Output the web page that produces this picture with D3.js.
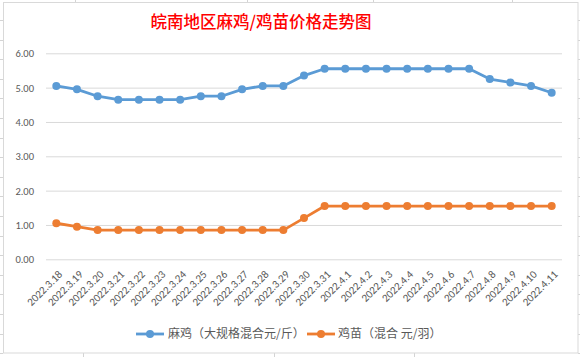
<!DOCTYPE html>
<html><head><meta charset="utf-8">
<script src="https://cdn.jsdelivr.net/npm/d3@7"></script>
<style>
html,body{margin:0;padding:0;background:#fff;}
svg{display:block;}
</style></head>
<body><svg id="c" width="580" height="357"></svg>
<script>
const categories = ["2022.3.18","2022.3.19","2022.3.20","2022.3.21","2022.3.22","2022.3.23","2022.3.24","2022.3.25","2022.3.26","2022.3.27","2022.3.28","2022.3.29","2022.3.30","2022.3.31","2022.4.1","2022.4.2","2022.4.3","2022.4.4","2022.4.5","2022.4.6","2022.4.7","2022.4.8","2022.4.9","2022.4.10","2022.4.11"];
const maji = [5.05,4.95,4.75,4.65,4.65,4.65,4.65,4.75,4.75,4.95,5.05,5.05,5.35,5.55,5.55,5.55,5.55,5.55,5.55,5.55,5.55,5.25,5.15,5.05,4.85];
const jimiao = [1.05,0.95,0.85,0.85,0.85,0.85,0.85,0.85,0.85,0.85,0.85,0.85,1.2,1.55,1.55,1.55,1.55,1.55,1.55,1.55,1.55,1.55,1.55,1.55,1.55];
const yTicks = [0,1,2,3,4,5,6];
const seriesNames = ["麻鸡（大规格混合元/斤）","鸡苗（混合 元/羽）"];
const title = "皖南地区麻鸡/鸡苗价格走势图";

const colors = ["#5B9BD5","#ED7D31"];
const svg = d3.select("#c");
const latin = "Calibri, Carlito, 'Liberation Sans', Arial, sans-serif";
const cjk = "'Noto Sans CJK SC', 'Microsoft YaHei', sans-serif";

// spreadsheet background grid outside chart
const bg = svg.append("g").attr("stroke","#D4D4D4").attr("stroke-width",1);
for (let y = 20; y < 357; y += 19.6) {
  bg.append("line").attr("x1",0).attr("x2",3).attr("y1",Math.round(y)+0.5).attr("y2",Math.round(y)+0.5);
  bg.append("line").attr("x1",578).attr("x2",580).attr("y1",Math.round(y)+0.5).attr("y2",Math.round(y)+0.5);
}
[75,247,373,512].forEach(x=>bg.append("line").attr("x1",x+0.5).attr("x2",x+0.5).attr("y1",0).attr("y2",2));
[83,274,414].forEach(x=>bg.append("line").attr("x1",x+0.5).attr("x2",x+0.5).attr("y1",353).attr("y2",357));

// chart border
svg.append("rect").attr("x",3.5).attr("y",2.5).attr("width",574.5).attr("height",350.5)
  .attr("fill","#fff").attr("stroke","#D9D9D9").attr("stroke-width",1);

// title
svg.append("text").attr("x",261).attr("y",22).attr("dy","0.35em")
  .attr("text-anchor","middle").attr("fill","#FF0000")
  .attr("font-family",cjk).attr("font-size",16.5).attr("font-weight",500)
  .text(title);

const x = d3.scaleBand().domain(categories).range([46,562]).padding(0);
const y = d3.scaleLinear().domain([0,6]).range([259.3,53.3]);

// y grid + labels
const yAxis = svg.append("g").attr("transform","translate(46,0)")
  .call(d3.axisLeft(y).tickValues(yTicks).tickFormat(d3.format(".2f")).tickSize(-516).tickPadding(12));
yAxis.select(".domain").remove();
yAxis.selectAll(".tick line").attr("stroke","#D9D9D9").attr("stroke-width",1);
yAxis.selectAll(".tick text").attr("fill","#595959").attr("font-family",latin).attr("font-size",10.5);

// x axis labels
const xAxis = svg.append("g").attr("transform","translate(0,259.3)")
  .call(d3.axisBottom(x).tickSize(0));
xAxis.select(".domain").remove();
xAxis.selectAll(".tick text")
  .attr("fill","#595959").attr("font-family",latin).attr("font-size",11)
  .attr("text-anchor","end")
  .attr("x",0).attr("y",0).attr("dy","0.35em")
  .attr("transform","translate(4,13) rotate(-45)");

// lines
const cx = d => x(d) + x.bandwidth()/2;
[maji, jimiao].forEach((vals,i)=>{
  const line = d3.line().x((d,j)=>cx(categories[j])).y(d=>y(d));
  svg.append("path").datum(vals).attr("d",line).attr("fill","none")
    .attr("stroke",colors[i]).attr("stroke-width",2.8).attr("stroke-linejoin","round");
  svg.append("g").selectAll("circle").data(vals).join("circle")
    .attr("cx",(d,j)=>cx(categories[j])).attr("cy",d=>y(d)).attr("r",4)
    .attr("fill",colors[i]);
});

// legend
const leg = [{lx:136, tx:168},{lx:307, tx:338}];
leg.forEach((l,i)=>{
  const g = svg.append("g");
  g.append("line").attr("x1",l.lx).attr("x2",l.lx+28).attr("y1",334).attr("y2",334)
    .attr("stroke",colors[i]).attr("stroke-width",2.8);
  g.append("circle").attr("cx",l.lx+14).attr("cy",334).attr("r",4).attr("fill",colors[i]);
  g.append("text").attr("x",l.tx).attr("y",334).attr("dy","0.35em")
    .attr("fill","#595959").attr("font-family",cjk).attr("font-size",12).text(seriesNames[i]);
});
</script></body></html>
